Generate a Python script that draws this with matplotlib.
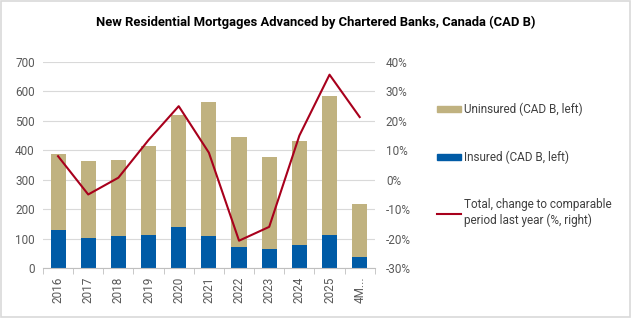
import matplotlib.pyplot as plt
import matplotlib.patches as mpatches
import numpy as np

plt.rcParams['font.family'] = ['Roboto', 'DejaVu Sans']

years = ['2016', '2017', '2018', '2019', '2020', '2021', '2022', '2023', '2024', '2025', '4M...']
insured = [128, 101, 108, 111, 139, 109, 71, 64, 78, 114, 37]
total = [388, 364, 367, 415, 521, 565, 446, 376, 432, 585, 218]
uninsured = [t - i for t, i in zip(total, insured)]
change = [8, -5, 0.7, 13.5, 25, 9.2, -20.7, -16, 15, 35.7, 21.3]

c_unins = '#C0B280'
c_ins = '#005BA6'
c_line = '#A8001C'
grey = '#595959'

fig = plt.figure(figsize=(6.32, 3.18), dpi=100)
ax = fig.add_axes([0.068, 0.157, 0.525, 0.648])
x = np.arange(len(years))

ax.bar(x, insured, width=0.5, color=c_ins, label='Insured (CAD B, left)', zorder=2)
ax.bar(x, uninsured, width=0.5, bottom=insured, color=c_unins, label='Uninsured (CAD B, left)', zorder=2)
ax.set_ylim(0, 700)
ax.set_xlim(-0.5, len(years) - 0.5)
ax.set_yticks(range(0, 701, 100))
ax.yaxis.grid(True, color='#D9D9D9', linewidth=0.8, zorder=0)
ax.set_axisbelow(True)
ax.set_xticks(x)
ax.set_xticklabels(years, rotation=90)
ax.set_xticks(np.arange(-0.5, len(years), 1), minor=True)
ax.tick_params(axis='x', which='major', length=0, labelsize=8.5, labelcolor=grey, pad=6)
ax.tick_params(axis='x', which='minor', length=4, color='#BFBFBF')
ax.tick_params(axis='y', length=0, labelsize=8.5, labelcolor=grey, pad=6)
for s in ['top', 'right', 'left']:
    ax.spines[s].set_visible(False)
ax.spines['bottom'].set_color('#BFBFBF')

ax2 = ax.twinx()
ax2.plot(x, change, color=c_line, linewidth=1.5, zorder=3)
ax2.set_ylim(-30, 40)
ax2.set_yticks(range(-30, 41, 10))
ax2.set_yticklabels([f'{v}%' for v in range(-30, 41, 10)])
ax2.tick_params(axis='y', length=0, labelsize=8.5, labelcolor=grey, pad=8)
for s in ax2.spines.values():
    s.set_visible(False)

fig.text(0.5, 0.93, 'New Residential Mortgages Advanced by Chartered Banks, Canada (CAD B)',
         ha='center', va='center', fontsize=9.4, fontweight='bold', color='black')

handles = [mpatches.Patch(color=c_unins), mpatches.Patch(color=c_ins),
           plt.Line2D([], [], color=c_line, linewidth=1.5)]
labels = ['Uninsured (CAD B, left)', 'Insured (CAD B, left)',
          'Total, change to comparable\nperiod last year (%, right)']
leg = fig.legend(handles, labels, loc='upper left', bbox_to_anchor=(0.675, 0.71),
                 frameon=False, fontsize=8.5, labelspacing=2.9, handlelength=2.0,
                 handleheight=0.45, handletextpad=0.3, labelcolor='#404040')

fig.patches.append(mpatches.Rectangle((0.002, 0.003), 0.995, 0.993, transform=fig.transFigure,
                                      fill=False, edgecolor='#D9D9D9', linewidth=1.2))

fig.savefig('out.png', dpi=100)
